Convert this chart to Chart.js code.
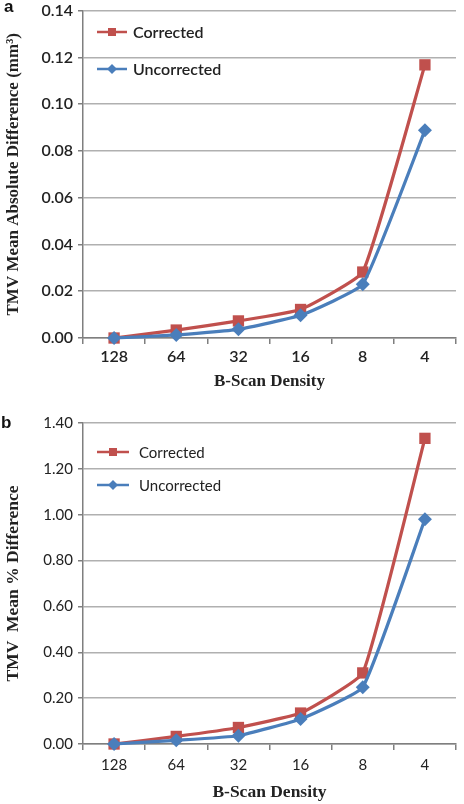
<!DOCTYPE html>
<html>
<head>
<meta charset="utf-8">
<script src="https://cdn.jsdelivr.net/npm/chart.js@4.4.0/dist/chart.umd.min.js"></script>
<style>
  html, body { margin: 0; padding: 0; background: #fff; width: 464px; height: 804px; overflow: hidden; }
  .panel { position: absolute; left: 0; width: 464px; height: 404px; }
  #wrapA { top: -4px; }
  #wrapB { top: 400px; }
  .tag { position: absolute; font: bold 17px "Liberation Sans", Arial, sans-serif; color: #111; }
</style>
</head>
<body>
<div class="panel" id="wrapA"><canvas id="chartA"></canvas></div>
<div class="panel" id="wrapB"><canvas id="chartB"></canvas></div>
<div class="tag" style="left:4px;top:-3px">a</div>
<div class="tag" style="left:1px;top:413px">b</div>

<script>
// --- data ---
const densityLabels = ['128', '64', '32', '16', '8', '4'];

// panel a: TMV mean absolute difference (mm³)
const absCorrected   = [0.000, 0.0034, 0.0073, 0.0122, 0.0282, 0.1168];
const absUncorrected = [0.000, 0.0013, 0.0037, 0.0097, 0.0230, 0.0888];

// panel b: TMV mean % difference
const pctCorrected   = [0.00, 0.033, 0.072, 0.135, 0.310, 1.333];
const pctUncorrected = [0.00, 0.016, 0.036, 0.109, 0.248, 0.980];

const RED = '#c0504d';
const BLUE = '#4a7ebb';
const AXIS = '#7f7f7f';
const GRID = '#b0b0b0';

// legend drawn inside the plot, line + marker like the Excel original
const insideLegend = {
  id: 'insideLegend',
  afterDraw(chart, args, opts) {
    const ctx = chart.ctx;
    ctx.save();
    chart.data.datasets.forEach((ds, i) => {
      const y = opts.top + i * opts.gap;
      const cx = opts.left + opts.lineLen / 2;
      ctx.strokeStyle = ds.borderColor;
      ctx.lineWidth = 2.5;
      ctx.beginPath();
      ctx.moveTo(opts.left, y);
      ctx.lineTo(opts.left + opts.lineLen, y);
      ctx.stroke();
      ctx.fillStyle = ds.backgroundColor;
      ctx.beginPath();
      if (ds.pointStyle === 'rect') {
        ctx.rect(cx - 4, y - 4, 8, 8);
      } else {
        ctx.moveTo(cx, y - 5); ctx.lineTo(cx + 5, y); ctx.lineTo(cx, y + 5); ctx.lineTo(cx - 5, y);
        ctx.closePath();
      }
      ctx.fill();
      ctx.fillStyle = '#222';
      ctx.font = opts.font;
      ctx.textBaseline = 'middle';
      ctx.fillText(ds.label, opts.left + opts.lineLen + opts.textGap, y + 1);
    });
    ctx.restore();
  }
};

function makeSeries(corrected, uncorrected) {
  return [
    { label: 'Corrected', data: corrected, borderColor: RED, backgroundColor: RED, borderWidth: 3.25,
      pointStyle: 'rect', pointRadius: 8, pointBorderWidth: 0, tension: 0.12, clip: false, order: 1 },
    { label: 'Uncorrected', data: uncorrected, borderColor: BLUE, backgroundColor: BLUE, borderWidth: 3.25,
      pointStyle: 'rectRot', pointRadius: 7, pointBorderWidth: 0, tension: 0.12, clip: false, order: 0 }
  ];
}

function makeChart(id, p) {
  const tickFont = { family: 'Lato', size: p.tickSize, weight: p.tickWeight };
  return new Chart(document.getElementById(id), {
    type: 'line',
    data: { labels: densityLabels, datasets: makeSeries(p.corrected, p.uncorrected) },
    options: {
      responsive: true,
      maintainAspectRatio: false,
      animation: false,
      layout: { padding: { top: p.padTop, right: 2, bottom: 0, left: 0 } },
      plugins: {
        legend: { display: false },
        tooltip: { enabled: false },
        insideLegend: p.legend
      },
      scales: {
        x: {
          offset: true,
          grid: { offset: true, drawOnChartArea: false, drawTicks: true, tickLength: 6, color: AXIS, lineWidth: 1.5 },
          border: { display: true, color: AXIS, width: 1.5 },
          ticks: { font: tickFont, color: '#222', padding: p.xTickPad, maxRotation: 0, autoSkip: false },
          title: { display: true, text: 'B-Scan Density', color: '#222',
                   font: { family: 'Liberation Serif', size: p.xTitleSize, weight: 'bold' },
                   padding: { top: 0, bottom: p.xTitlePad } },
          afterFit: s => { s.height = p.xHeight; }
        },
        y: {
          min: 0,
          max: p.yMax,
          ticks: { stepSize: p.yStep, font: tickFont, color: '#222', padding: 5,
                   callback: v => Number(v).toFixed(2) },
          grid: { color: GRID, lineWidth: 1.5, tickLength: 5, tickColor: AXIS, drawTicks: true },
          border: { color: AXIS, width: 1.5 },
          title: { display: true, text: p.yTitle, color: '#222',
                   font: { family: 'Liberation Serif', size: p.yTitleSize, weight: 'bold' },
                   padding: { top: 3, bottom: 0 } },
          afterFit: s => { s.width = 83; }
        }
      }
    },
    plugins: [insideLegend]
  });
}

makeChart('chartA', {
  corrected: absCorrected, uncorrected: absUncorrected,
  yMax: 0.14, yStep: 0.02, yTitle: 'TMV Mean Absolute Difference (mm³)', yTitleSize: 17,
  tickSize: 16, tickWeight: '600', padTop: 9, xHeight: 62, xTickPad: 3, xTitleSize: 17, xTitlePad: 8,
  legend: { left: 97, top: 36, gap: 37, lineLen: 30, textGap: 6, font: '600 16px Lato' }
});

makeChart('chartB', {
  corrected: pctCorrected, uncorrected: pctUncorrected,
  yMax: 1.4, yStep: 0.2, yTitle: 'TMV  Mean % Difference', yTitleSize: 17.5,
  tickSize: 15, tickWeight: 'normal', padTop: 23, xHeight: 60, xTickPad: 6, xTitleSize: 17.5, xTitlePad: 1,
  legend: { left: 97, top: 52, gap: 33, lineLen: 32, textGap: 10, font: '15px Lato' }
});
</script>
</body>
</html>
